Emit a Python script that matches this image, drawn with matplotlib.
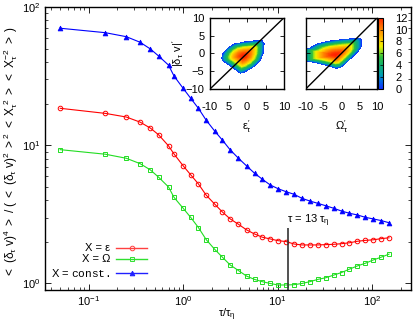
import matplotlib
matplotlib.use('Agg')
import matplotlib.pyplot as plt
import numpy as np
from matplotlib.path import Path
from matplotlib.colors import LinearSegmentedColormap

plt.rcParams['font.family'] = ['Liberation Sans', 'DejaVu Sans']
plt.rcParams['font.size'] = 7
plt.rcParams['mathtext.fontset'] = 'custom'
plt.rcParams['mathtext.rm'] = 'Liberation Sans'
plt.rcParams['mathtext.it'] = 'Liberation Sans'
plt.rcParams['mathtext.tt'] = 'Liberation Mono'

# time lag in units of tau_eta
tau = [0.05, 0.15, 0.25, 0.35, 0.45, 0.55, 0.7, 0.8, 1.0, 1.2, 1.45, 1.75,
       2.15, 2.6, 3.15, 3.85, 4.7, 5.7, 6.9, 8.35, 10.1, 12.3, 14.9, 18.1,
       21.9, 26.6, 32.3, 39.2, 47.5, 57.6, 69.9, 84.8, 103, 125, 151]

# normalised flatness for the three choices of X
kurt_eps = [18.5, 17.0, 16.0, 14.7, 13.3, 11.9, 9.9, 8.65, 7.1, 6.12, 5.25,
            4.36, 3.76, 3.29, 2.93, 2.68, 2.44, 2.28, 2.16, 2.10, 2.04, 2.01,
            1.93, 1.90, 1.90, 1.90, 1.91, 1.92, 1.94, 1.97, 2.02, 2.05, 2.07,
            2.11, 2.14]
kurt_omega = [9.29, 8.61, 8.05, 7.36, 6.63, 5.87, 4.99, 4.20, 3.50, 3.01, 2.54,
              2.08, 1.77, 1.55, 1.36, 1.24, 1.13, 1.07, 1.03, 1.00, 0.975,
              0.975, 0.98, 1.00, 1.03, 1.07, 1.10, 1.15, 1.20, 1.27, 1.34,
              1.40, 1.48, 1.55, 1.63]
kurt_const = [70.2, 65.2, 61.0, 55.6, 49.7, 44.2, 38.0, 31.7, 25.8, 21.9, 18.5,
              15.2, 12.7, 10.9, 9.25, 8.05, 7.08, 6.27, 5.67, 5.16, 4.85, 4.61,
              4.42, 4.13, 3.95, 3.80, 3.65, 3.50, 3.34, 3.22, 3.13, 3.01, 2.93,
              2.85, 2.75]

tau_mark = 13

# outlines and peaks of the joint pdfs
eps_outline = [(-7.1, -1.3), (-6.6, 0.1), (-5.5, 1.4), (-3.7, 2.6), (-1, 3.2),
               (1.7, 3.5), (4, 3.6), (4.6, 2.8), (4.4, 0.1), (3.5, -2.2),
               (1.7, -4), (-0.5, -5.3), (-1.9, -5.8), (-3.7, -4.4),
               (-5.5, -3.1), (-6.8, -2.2)]
eps_peak = (-1, -0.8)
omega_outline = [(-11, -2.2), (-11, 1.2), (-9.3, 1.4), (-7.4, 2.5),
                 (-4.6, 3.3), (-1.8, 3.7), (1, 4), (3.8, 4.2), (5.2, 4.2),
                 (5.6, 3.7), (5.6, 1.9), (4.7, 0.5), (2.8, -1.4), (1, -3.1),
                 (-0.4, -4.2), (-1.8, -4.4), (-3.7, -3.7), (-5.5, -3.3),
                 (-7.4, -2.8), (-9.3, -2.5)]
omega_peak = (-1.8, -0.5)
cbar_ticks = [0, 2, 4, 6, 8, 10, 12]

W, H = 415, 323


def density(outline, peak, n=240):
    """nested copies of the outline, shrunk towards the peak"""
    g = np.linspace(-10, 10, n)
    X, Y = np.meshgrid(g, g)
    pts = np.column_stack([X.ravel(), Y.ravel()])
    s = np.full(pts.shape[0], np.nan)
    outline = np.asarray(outline, float)
    peak = np.asarray(peak, float)
    for t in np.linspace(1.0, 0.01, 100):
        s[Path(peak + t * (outline - peak)).contains_points(pts)] = t
    return (12 * (1 - s ** 1.8)).reshape(n, n)


cmap = LinearSegmentedColormap.from_list('pdf', [
    (0.0, '#1030ff'), (0.12, '#0070e0'), (0.2, '#00a0b0'), (0.33, '#10b070'),
    (0.45, '#30c040'), (0.52, '#90e020'), (0.6, '#f0f000'), (0.7, '#ffc800'),
    (0.8, '#ff9800'), (0.9, '#ff6400'), (1.0, '#ff2000')])

fig = plt.figure(figsize=(W / 100, H / 100), dpi=100)
ax = fig.add_axes([45 / W, 1 - 290 / H, 366 / W, 283 / H])

ax.plot(tau, kurt_eps, '-o', color='#ff0000', ms=3.3, mfc='none', mew=0.7, lw=0.8)
ax.plot(tau, kurt_omega, '-s', color='#22dd22', ms=3.3, mfc='none', mew=0.7, lw=0.8)
ax.plot(tau, kurt_const, '-^', color='#0000ff', ms=3.5, mew=0.5, lw=0.8)

ax.vlines(tau_mark, 0.897, 2.52, color='#333333', lw=1.2)
ax.text(12.5, 2.83, r'$\tau$ = 13 $\tau_\eta$', ha='left', va='center', fontsize=8)

# gnuplot style key: right aligned text, then the sample
key = [('X = ε', '#ff4040', 'o', 'none'),
       ('X = Ω', '#30e030', 's', 'none'),
       (r'X = $\mathtt{const.}$', '#2020ff', '^', '#2020ff')]
key_y = [0.147, 0.108, 0.061]
for (lab, col, mk, fc), y in zip(key, key_y):
    ax.text(0.178, y, lab, transform=ax.transAxes, ha='right', va='center', fontsize=8)
    ax.plot([0.194, 0.279], [y, y], transform=ax.transAxes, color=col, lw=1.0)
    ax.plot([0.2365], [y], transform=ax.transAxes, marker=mk, color=col,
            mfc=fc, ms=3.3, mew=0.7)

ax.set_xscale('log')
ax.set_yscale('log')
ax.set_xlim(0.0345, 258)
ax.set_ylim(0.897, 100)
ax.tick_params(which='both', direction='in', top=True, right=True, labelsize=8)
ax.tick_params(which='major', length=4.5, width=0.6)
ax.tick_params(which='minor', length=2.5, width=0.5)
ax.tick_params(axis='x', pad=3)
for sp in ax.spines.values():
    sp.set_linewidth(1.0)
ax.set_xlabel(r'$\tau/\tau_\eta$', fontsize=8)
ax.xaxis.set_label_coords(0.497, -0.058)
ax.set_ylabel(r'$<\ (\delta_\tau\ v)^4\ >\ /\ (\ <\ (\delta_\tau\ v)^2\ >^2\ <\ X_\tau^{\ 2}\ >\ <\ X_\tau^{-2}\ >\ )$',
              fontsize=8.6)
ax.yaxis.set_label_coords(-0.068, 0.49)

# insets with the joint pdfs
ins1 = fig.add_axes([210 / W, 1 - 89 / H, 74 / W, 71.3 / H])
ins2 = fig.add_axes([305.7 / W, 1 - 89 / H, 71.6 / W, 71.3 / H])
cax = fig.add_axes([378.3 / W, 1 - 89 / H, 4.7 / W, 71.3 / H])

for a, outline, peak in [(ins1, eps_outline, eps_peak), (ins2, omega_outline, omega_peak)]:
    im = a.imshow(density(outline, peak), extent=(-10, 10, -10, 10), origin='lower',
                  cmap=cmap, vmin=0, vmax=12, interpolation='nearest', aspect='auto')
    a.plot([-10, 10], [-10, 10], color='k', lw=1.0)
    a.set_xlim(-10, 10)
    a.set_ylim(-10, 10)
    a.set_xticks([-10, -5, 0, 5, 10])
    a.set_yticks([-10, -5, 0, 5, 10])
    a.tick_params(direction='in', top=True, right=True, length=3, width=0.6,
                  labelsize=8, pad=9)
    for sp in a.spines.values():
        sp.set_linewidth(1.0)

ins1.set_xticklabels(['-10', '5', '0', '5', '10'])
ins2.set_xticklabels(['-10', '-5', '0', '5', '10'])
ins1.tick_params(axis='y', pad=4)
ins2.set_yticklabels([])
ins1.set_ylabel(r"$|\delta_\tau\ v|'$", fontsize=8, labelpad=0)
ins1.set_xlabel(r"$\varepsilon_\tau'$", fontsize=8, labelpad=5)
ins2.set_xlabel(r"$\Omega_\tau'$", fontsize=8, labelpad=5)

cb = fig.colorbar(im, cax=cax, ticks=cbar_ticks)
cb.ax.tick_params(direction='in', length=2, width=0.5, labelsize=8, pad=9)
cb.outline.set_linewidth(0.8)

fig.savefig('out.png', dpi=100)
